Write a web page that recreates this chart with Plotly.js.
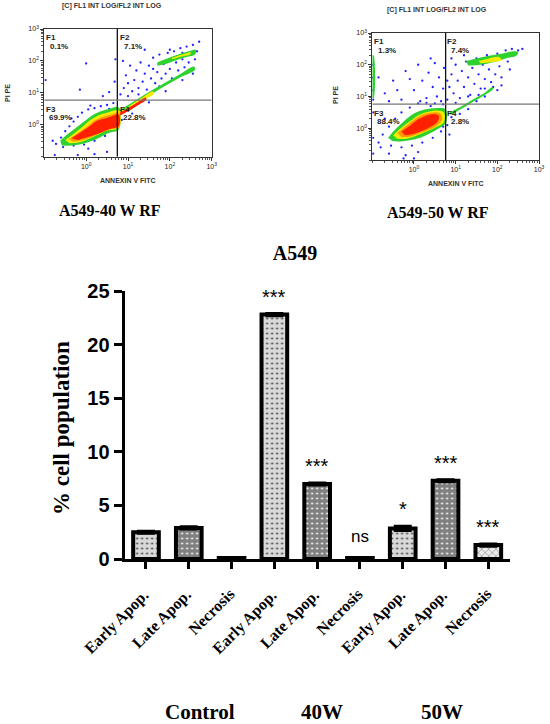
<!DOCTYPE html>
<html><head><meta charset="utf-8">
<script src="https://cdn.plot.ly/plotly-3.0.1.min.js"></script>
<style>html,body{margin:0;padding:0;background:#fff}#chart{width:550px;height:724px}</style>
</head><body><div id="chart"></div>
<script>
// ================= DATA =================
// Bar chart
const categories = ["Early Apop.","Late Apop.","Necrosis","Early Apop.","Late Apop.","Necrosis","Early Apop.","Late Apop.","Necrosis"];
const groups = ["Control","40W","50W"];
const values = [2.5, 2.9, 0.1, 22.8, 7.0, 0.1, 2.85, 7.3, 1.3];
const errors = [0.1, 0.1, 0.05, 0.1, 0.1, 0.05, 0.2, 0.1, 0.1];
const significance = ["","","","***","***","ns","*","***","***"];
const yTicks = [0, 5, 10, 15, 20, 25];
const chartTitle = "A549";
const yTitle = "% cell population";

// Flow cytometry panels
const panelNames = ["A549-40 W RF", "A549-50 W RF"];
const panelTitle = "[C] FL1 INT LOG/FL2 INT LOG";
const xAxisName = "ANNEXIN V FITC";
const yAxisName = "PI PE";
const quadNames = ["F1","F2","F3","F4"];
const quadPct40 = ["0.1%","7.1%","69.9%","22.8%"];
const quadPct50 = ["1.3%","7.4%","88.4%","2.8%"];
const gate40 = [5.56, 5.96];   // [annexin, PI] gate values
const gate50 = [5.75, 5.75];
const flowTickVals = [1, 10, 100, 1000];
const flowTickText = ["10<sup>0</sup>","10<sup>1</sup>","10<sup>2</sup>","10<sup>3</sup>"];

// density regions (log10 units), segments separated by null
const p40GreenX = [-0.62,-0.45,-0.25,-0.05,0.15,0.35,0.55,0.78,0.78,0.55,0.35,0.15,-0.1,-0.35,-0.58, null,
  0.78,1.0,1.4,1.8,2.2,2.58,2.6,2.2,1.8,1.4,1.0,0.78, null,
  1.7,1.95,2.2,2.45,2.62,2.6,2.4,2.15,1.9,1.7];
const p40GreenY = [-0.5,-0.3,-0.1,0.1,0.3,0.42,0.5,0.55,-0.15,-0.25,-0.38,-0.5,-0.6,-0.65,-0.65, null,
  0.45,0.62,0.95,1.25,1.55,1.82,1.72,1.45,1.15,0.82,0.45,0.25, null,
  1.95,2.08,2.2,2.3,2.35,2.2,2.12,2.02,1.9,1.85];
const p40YellowX = [-0.5,-0.3,-0.1,0.1,0.3,0.5,0.78,0.78,0.5,0.3,0.1,-0.15,-0.4, null,
  0.78,1.0,1.3,1.6,1.62,1.3,1.0,0.78, null,
  2.05,2.3,2.5,2.48,2.28,2.05];
const p40YellowY = [-0.48,-0.28,-0.08,0.15,0.3,0.38,0.45,-0.1,-0.18,-0.3,-0.42,-0.55,-0.58, null,
  0.4,0.56,0.82,1.05,0.97,0.72,0.45,0.3, null,
  2.1,2.2,2.27,2.2,2.14,2.05];
const p40OrangeX = [-0.42,-0.22,0.0,0.2,0.4,0.6,0.78,0.78,0.55,0.35,0.15,-0.05,-0.3];
const p40OrangeY = [-0.45,-0.28,-0.08,0.13,0.25,0.32,0.38,-0.08,-0.15,-0.26,-0.37,-0.47,-0.53];
const p40RedX = [-0.35,-0.15,0.05,0.25,0.45,0.6,0.78,0.78,0.6,0.4,0.2,0.0,-0.2, null,
  0.8,1.0,1.25,1.42,1.44,1.25,1.0,0.82];
const p40RedY = [-0.42,-0.25,-0.08,0.12,0.2,0.26,0.32,-0.05,-0.12,-0.22,-0.32,-0.4,-0.48, null,
  0.38,0.52,0.72,0.85,0.78,0.62,0.42,0.3];

const p50GreenX = [-0.62,-0.48,-0.3,-0.1,0.15,0.4,0.6,0.76,0.76,0.6,0.4,0.15,-0.1,-0.32,-0.52, null,
  0.85,1.1,1.4,1.7,1.88,1.9,1.7,1.4,1.1,0.88, null,
  1.25,1.5,1.8,2.1,2.35,2.5,2.45,2.2,1.9,1.6,1.3, null,
  -1.0,-0.97,-0.97,-1.0];
const p50GreenY = [-0.3,-0.08,0.15,0.38,0.55,0.62,0.64,0.6,0.15,0.0,-0.15,-0.3,-0.38,-0.42,-0.4, null,
  0.5,0.66,0.9,1.12,1.3,1.24,1.05,0.82,0.58,0.42, null,
  2.12,2.2,2.28,2.35,2.42,2.4,2.28,2.2,2.08,2.0,1.98, null,
  0.95,0.95,2.3,2.3];
const p50YellowX = [-0.5,-0.32,-0.1,0.12,0.35,0.55,0.72,0.72,0.55,0.3,0.05,-0.18,-0.4, null,
  1.55,1.8,2.05,2.1,1.85,1.6];
const p50YellowY = [-0.22,0.0,0.22,0.42,0.52,0.56,0.5,0.2,0.05,-0.1,-0.24,-0.33,-0.33, null,
  2.12,2.2,2.24,2.14,2.08,2.05];
const p50OrangeX = [-0.4,-0.22,0.0,0.22,0.45,0.62,0.68,0.58,0.4,0.15,-0.08,-0.3];
const p50OrangeY = [-0.15,0.05,0.27,0.44,0.5,0.48,0.3,0.12,-0.02,-0.15,-0.26,-0.28];
const p50RedX = [-0.3,-0.1,0.1,0.3,0.48,0.6,0.56,0.4,0.2,-0.02,-0.22];
const p50RedY = [-0.1,0.08,0.28,0.4,0.45,0.38,0.2,0.05,-0.08,-0.18,-0.22];

// sparse events (log10 units)
const dots40X = [0.0,-0.97,-0.15,0.55,0.4,0.68,0.7,
  0.82,0.9,0.95,1.0,1.05,1.1,1.15,1.2,1.25,1.3,1.35,1.4,1.45,1.5,1.55,1.6,1.65,1.7,1.75,1.8,1.85,1.9,1.95,2.0,2.05,2.1,2.15,2.2,2.25,2.3,2.35,2.4,2.45,2.5,2.55,2.6,2.7,2.65,
  1.0,1.25,0.88,1.4,2.0,2.3,1.6,1.75,
  -0.72,-0.6,-0.5,-0.4,-0.3,-0.2,-0.1,0.05,0.2,0.35,0.5,0.65,
  -0.55,-0.3,-0.05,0.2,0.45,0.6,
  -0.2,0.2,0.5,-0.75,0.05,-0.8,0.7,-0.35,0.1,0.55,
  1.1,1.5,1.9,2.3,2.55,0.85];
const dots40Y = [1.92,1.4,1.1,1.02,0.9,1.35,2.05,
  0.95,1.15,1.55,1.3,1.85,1.05,1.4,1.7,1.15,1.95,1.35,1.6,1.1,1.85,1.45,2.1,1.3,1.65,2.2,1.45,1.9,1.6,2.25,1.75,1.45,2.3,1.95,1.7,2.4,2.05,1.8,2.45,1.95,2.2,2.5,2.05,2.6,2.3,
  0.9,0.95,2.0,2.35,2.35,2.25,1.75,1.2,
  -0.6,-0.4,-0.2,-0.05,0.1,0.25,0.38,0.48,0.52,0.58,0.62,0.68,
  -0.7,-0.65,-0.62,-0.5,-0.35,-0.2,
  -0.95,-0.92,-0.85,-0.95,-0.75,-0.5,0.2,0.2,0.6,0.5,
  0.35,0.7,1.05,1.4,1.6,0.15];
const dots50X = [-0.7,-0.5,-0.3,-0.2,0.0,0.1,0.2,0.3,0.35,0.45,0.5,0.55,0.6,0.65,0.7,-0.85,-0.6,0.15,-0.1,0.4,0.72,-0.4,
  -0.98,-0.98,-0.98,-0.98,-0.98,-0.98,-0.98,
  0.8,0.85,0.9,0.95,1.0,1.05,1.1,1.15,1.2,1.25,1.3,1.35,1.4,1.45,1.5,1.55,1.6,1.65,1.7,1.75,1.8,1.85,1.9,1.95,2.0,2.05,2.1,2.15,2.2,2.25,2.3,2.35,2.4,2.5,2.6,
  1.0,1.3,1.55,1.7,0.9,1.2,1.9,2.1,0.8,
  -0.85,-0.75,-0.6,-0.45,-0.3,-0.1,0.1,0.3,0.5,0.7,
  -0.8,-0.55,-0.3,-0.05,0.2,0.45,0.65,-0.6,-0.2,0.1,0.0,0.7,-0.7,0.4,-0.25,
  0.8,0.9,1.1,1.3,0.85,1.5,1.7,2.0];
const dots50Y = [1.1,1.5,0.9,1.8,1.2,2.0,1.5,0.95,1.75,1.3,2.05,1.0,1.6,0.85,1.25,1.6,0.85,0.85,1.55,2.2,1.9,1.2,
  0.9,1.2,1.6,2.0,0.5,-0.3,-0.8,
  0.9,1.3,1.7,1.1,2.0,1.5,0.95,1.8,1.3,2.1,1.6,1.05,1.9,1.4,2.2,1.7,1.25,2.0,1.55,2.3,1.85,1.45,2.15,1.7,2.35,1.95,1.6,2.25,2.45,2.1,1.85,2.5,2.3,2.45,2.5,
  0.8,1.0,1.05,1.25,2.2,2.3,1.3,1.35,1.5,
  -0.45,-0.2,0.05,0.3,0.5,0.65,0.78,0.8,0.78,0.75,
  -0.6,-0.55,-0.6,-0.55,-0.45,-0.3,-0.1,-0.8,-0.85,-0.75,-0.95,0.05,0.3,0.7,-0.95,
  0.1,0.35,0.45,0.6,-0.2,0.85,1.0,1.2];

// ================= STYLE / BUILD =================
const pow10 = a => a.map(v => v === null ? null : Math.pow(10, v));
const SERIF = "Liberation Serif, Times New Roman, serif";
const SANS = "Liberation Sans, Arial, sans-serif";

const traces = [];

// --- bars ---
const xs = categories.map((c, i) => i);
const barBg = ["#d9d9d9","#7f7f7f","#d9d9d9","#d9d9d9","#7f7f7f","#d9d9d9","#d9d9d9","#7f7f7f","#ececec"];
const barFg = ["#6e6e6e","#d0d0d0","#6e6e6e","#6e6e6e","#d0d0d0","#6e6e6e","#6e6e6e","#d0d0d0","#bdbdbd"];
const barShape = [".",".",".",".",".",".",".",".","x"];
traces.push({
  type: "bar", x: xs, y: values, xaxis: "x", yaxis: "y", width: 0.6,
  marker: { color: barBg, line: { color: "#000", width: 4 },
    pattern: { shape: barShape, fillmode: "overlay", fgcolor: barFg, fgopacity: 1, size: 5, solidity: 0.14 } },
  error_y: { type: "data", array: errors, visible: true, color: "#000", thickness: 3, width: 9 },
  hoverinfo: "skip"
});

// --- flow panels ---
function addPanel(ax, ay, gX, gY, yX, yY, oX, oY, rX, rY, dX, dY, gate) {
  traces.push({ type: "scatter", mode: "markers", x: pow10(dX), y: pow10(dY), xaxis: ax, yaxis: ay,
    marker: { size: 2.3, color: "#1f1fff" }, hoverinfo: "skip" });
  const layers = [[gX, gY, "#2fd12f"], [yX, yY, "#f4ec00"], [oX, oY, "#ff9a00"], [rX, rY, "#ff2000"]];
  layers.forEach(([lx, ly, col]) => {
    traces.push({ type: "scatter", mode: "lines", x: pow10(lx), y: pow10(ly), xaxis: ax, yaxis: ay,
      fill: "toself", fillcolor: col, line: { width: 0, shape: "spline", smoothing: 1, color: col }, hoverinfo: "skip" });
  });
  // quadrant gate lines
  traces.push({ type: "scatter", mode: "lines", x: [gate[0], gate[0]], y: [0.1, 1000], xaxis: ax, yaxis: ay,
    line: { color: "#111", width: 1.3 }, hoverinfo: "skip" });
  traces.push({ type: "scatter", mode: "lines", x: [0.1, 1000], y: [gate[1], gate[1]], xaxis: ax, yaxis: ay,
    line: { color: "#777", width: 1.2 }, hoverinfo: "skip" });
}
addPanel("x2", "y2", p40GreenX, p40GreenY, p40YellowX, p40YellowY, p40OrangeX, p40OrangeY, p40RedX, p40RedY, dots40X, dots40Y, gate40);
addPanel("x3", "y3", p50GreenX, p50GreenY, p50YellowX, p50YellowY, p50OrangeX, p50OrangeY, p50RedX, p50RedY, dots50X, dots50Y, gate50);

function flowX(domain, anchor) {
  return { domain: domain, anchor: anchor, type: "log", range: [-1, 3], showline: true, mirror: true,
    linecolor: "#333", linewidth: 1, ticks: "outside", ticklen: 3, tickcolor: "#333", tickwidth: 1,
    tickmode: "array", tickvals: flowTickVals, ticktext: flowTickText,
    tickfont: { family: SANS, size: 7, color: "#222" },
    minor: { ticks: "outside", ticklen: 2, tickcolor: "#555", dtick: "D1", showgrid: false },
    showgrid: false, zeroline: false, fixedrange: true };
}

const W = 550, H = 724;
const px = v => v / W, py = v => (H - v) / H;

const layout = {
  width: W, height: H, margin: { l: 0, r: 0, t: 0, b: 0 },
  paper_bgcolor: "#fff", plot_bgcolor: "rgba(0,0,0,0)", showlegend: false,
  title: { text: chartTitle, x: px(295), y: py(253), xanchor: "center", yanchor: "middle",
    font: { family: SERIF, size: 20, color: "#000", weight: "bold" } },
  xaxis: { domain: [px(124.6), px(509.7)], anchor: "y", range: [-0.5, 8.5], showline: true, linewidth: 3,
    linecolor: "#000", ticks: "outside", ticklen: 7, tickwidth: 3, tickcolor: "#000",
    tickmode: "array", tickvals: xs, showticklabels: false, showgrid: false, zeroline: false, fixedrange: true },
  yaxis: { domain: [py(559), py(291)], anchor: "x", range: [0, 25], showline: true, linewidth: 3,
    linecolor: "#000", ticks: "outside", ticklen: 8, tickwidth: 3, tickcolor: "#000",
    tickmode: "array", tickvals: yTicks, tickfont: { family: SANS, size: 20, color: "#000", weight: "bold" },
    showgrid: false, zeroline: false, fixedrange: true },
  xaxis2: flowX([px(44.3), px(211.7)], "y2"),
  yaxis2: flowX([py(156.7), py(29)], "x2"),
  xaxis3: flowX([px(372.3), px(539)], "y3"),
  yaxis3: flowX([py(160), py(33)], "x3"),
  annotations: []
};

const ann = layout.annotations;
// y title
ann.push({ text: yTitle, xref: "paper", yref: "paper", x: px(62), y: py(428), textangle: -90,
  showarrow: false, xanchor: "center", yanchor: "middle",
  font: { family: SERIF, size: 23, color: "#000", weight: "bold" } });
// category labels
categories.forEach((c, i) => {
  ann.push({ text: c, xref: "x", yref: "paper", x: i, y: py(583), textangle: -45, showarrow: false,
    xanchor: "right", yanchor: "top", xshift: 9,
    font: { family: SERIF, size: 16, color: "#000", weight: "bold" } });
});
// group labels
const groupPx = [200, 321.7, 441.7];
groups.forEach((g, i) => {
  ann.push({ text: g, xref: "paper", yref: "paper", x: px(groupPx[i]), y: py(711.5), showarrow: false,
    xanchor: "center", yanchor: "middle", font: { family: SERIF, size: 21, color: "#000", weight: "bold" } });
});
// significance marks
significance.forEach((s, i) => {
  if (!s) return;
  const isNs = s === "ns";
  ann.push({ text: s, xref: "x", yref: "y", x: i, y: values[i] + errors[i], showarrow: false,
    xanchor: "center", yanchor: "bottom", yshift: isNs ? 9 : 4,
    font: { family: SANS, size: isNs ? 17 : 20, color: "#000" } });
});

// flow panel texts
const panels = [
  { xa: "x2", ya: "y2", pct: quadPct40, name: panelNames[0], title: [112, 6], xlab: [128, 180], ylab: [8, 93], lab: [110, 211] },
  { xa: "x3", ya: "y3", pct: quadPct50, name: panelNames[1], title: [437, 10], xlab: [456, 183], ylab: [335, 95], lab: [438, 212] }
];
const quadPos = [[0.005, 0.978, 0.03, 0.86], [0.445, 0.978, 0.468, 0.86], [0.005, 0.41, 0.02, 0.305], [0.445, 0.41, 0.465, 0.305]];
panels.forEach(p => {
  ann.push({ text: panelTitle, xref: "paper", yref: "paper", x: px(p.title[0]), y: py(p.title[1]), showarrow: false,
    xanchor: "center", yanchor: "middle", font: { family: SANS, size: 7, color: "#333", weight: "bold" } });
  ann.push({ text: xAxisName, xref: "paper", yref: "paper", x: px(p.xlab[0]), y: py(p.xlab[1]), showarrow: false,
    xanchor: "center", yanchor: "middle", font: { family: SANS, size: 7, color: "#333", weight: "bold" } });
  ann.push({ text: yAxisName, xref: "paper", yref: "paper", x: px(p.ylab[0]), y: py(p.ylab[1]), showarrow: false,
    textangle: -90, xanchor: "center", yanchor: "middle", font: { family: SANS, size: 7, color: "#333", weight: "bold" } });
  ann.push({ text: p.name, xref: "paper", yref: "paper", x: px(p.lab[0]), y: py(p.lab[1]), showarrow: false,
    xanchor: "center", yanchor: "middle", font: { family: SERIF, size: 16, color: "#000", weight: "bold" } });
  quadNames.forEach((q, k) => {
    const pos = quadPos[k];
    ann.push({ text: q, xref: p.xa + " domain", yref: p.ya + " domain", x: pos[0], y: pos[1], showarrow: false,
      xanchor: "left", yanchor: "top", borderpad: 0, font: { family: SANS, size: 8, color: "#222", weight: "bold" } });
    ann.push({ text: p.pct[k], xref: p.xa + " domain", yref: p.ya + " domain", x: pos[2], y: pos[3], showarrow: false,
      xanchor: "left", yanchor: "middle", borderpad: 0, font: { family: SANS, size: 8, color: "#222", weight: "bold" } });
  });
});

Plotly.newPlot("chart", traces, layout, { staticPlot: true, displayModeBar: false });
</script>
</body></html>
